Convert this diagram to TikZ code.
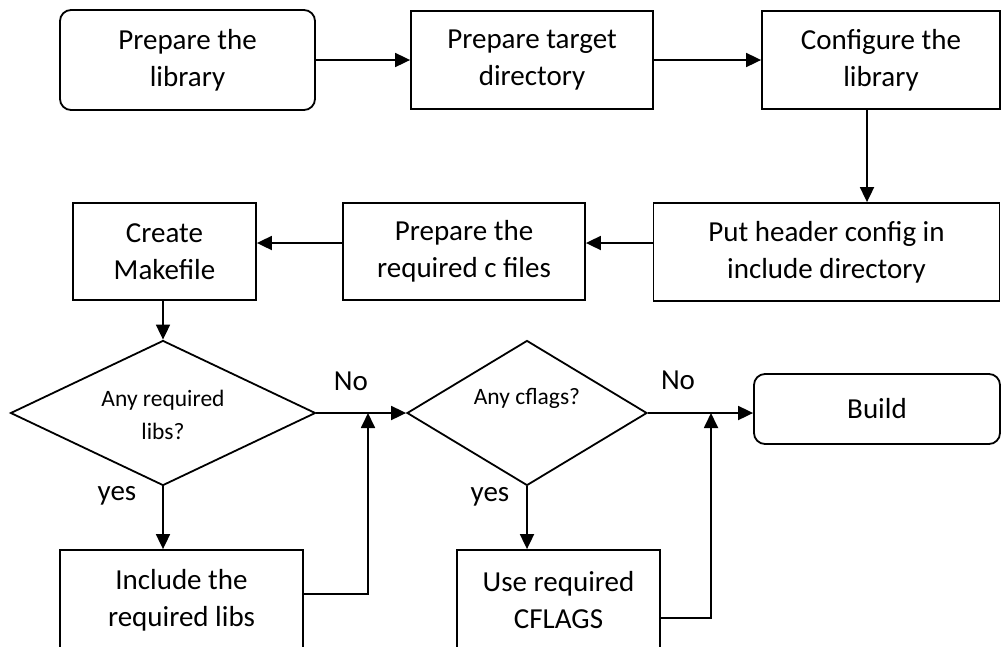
\documentclass[tikz,border=0pt]{standalone}
\usepackage{fontspec}
\setmainfont{Carlito}
\usetikzlibrary{arrows.meta,shapes.geometric}
\begin{document}
\begin{tikzpicture}[x=1pt,y=-1pt,
  line width=1.8pt,
  base/.style={draw=black,inner sep=0pt,align=center,font=\fontsize{29}{37}\selectfont},
  stepbox/.style={base,rectangle},
  roundbox/.style={base,rectangle,rounded corners=11pt},
  decision/.style={draw=black,diamond,inner sep=0pt},
  smalltext/.style={inner sep=0pt,align=center,font=\fontsize{23.5}{33}\selectfont},
  lbl/.style={inner sep=0pt,font=\fontsize{29}{36}\selectfont},
  arr/.style={-{Triangle[length=15pt,width=14pt]}}]
\useasboundingbox (0,0) rectangle (1001,646);
\clip (0,0) rectangle (1001,646);

% top row
\node[roundbox,minimum width=255pt,minimum height=100pt] (b1) at (187.5,60) {Prepare the\\library};
\node[stepbox,minimum width=242pt,minimum height=98pt] (b2) at (532,60) {Prepare target\\directory};
\node[stepbox,minimum width=238pt,minimum height=98pt] (b3) at (881,60) {Configure the\\library};

% second row
\node[stepbox,minimum width=346pt,minimum height=98pt] (b4) at (826.5,252) {Put header config in\\include directory};
\node[stepbox,minimum width=242pt,minimum height=97pt] (b5) at (464,251.5) {Prepare the\\required c files};
\node[stepbox,minimum width=183pt,minimum height=97pt] (b6) at (164.5,251.5) {Create\\Makefile};

% decisions
\node[decision,minimum width=305pt,minimum height=145pt] (d1) at (163,413) {};
\node[smalltext] (d1t) at (163,415) {Any required\\libs?};
\node[decision,minimum width=240pt,minimum height=145pt] (d2) at (527,413) {};
\node[smalltext] (d2t) at (527,398) {Any cflags?};

% end and branch boxes
\node[roundbox,minimum width=246pt,minimum height=70pt] (build) at (877,409) {Build};
\node[stepbox,minimum width=243pt,minimum height=100pt] (inc) at (181.5,600) {Include the\\required libs};
\node[stepbox,minimum width=203pt,minimum height=100pt] (cfl) at (558.5,600) {Use required\\CFLAGS};

% joins on the "No" lines
\coordinate (j1) at (368,413);
\coordinate (j2) at (711,413);

% labels
\node[lbl] (no1) at (351,381) {No};
\node[lbl] (no2) at (678,380) {No};
\node[lbl] (yes1) at (117,496) {yes};
\node[lbl] (yes2) at (490,497) {yes};

% connectors
\draw[arr] (b1.east) -- (b2.west);
\draw[arr] (b2.east) -- (b3.west);
\draw[arr] ([xshift=-14pt]b3.south) -- ([xshift=-14pt]b3.south |- b4.north);
\draw[arr] ([yshift=9pt]b4.west) -- ([yshift=9pt]b4.west -| b5.east);
\draw[arr] ([yshift=8.5pt]b5.west) -- ([yshift=8.5pt]b5.west -| b6.east);
\draw[arr] (d1.north |- b6.south) -- (d1.north);
\draw[arr] (d1.east) -- (d2.west);
\draw[arr] (d2.east) -- (build.west |- d2.east);
\draw[arr] (d1.south) -- (d1.south |- inc.north);
\draw[arr] (d2.south) -- (d2.south |- cfl.north);
\draw[arr] ([yshift=6pt]inc.east) -| (j1);
\draw[arr] ([yshift=-18pt]cfl.east) -| (j2);
\end{tikzpicture}
\end{document}
